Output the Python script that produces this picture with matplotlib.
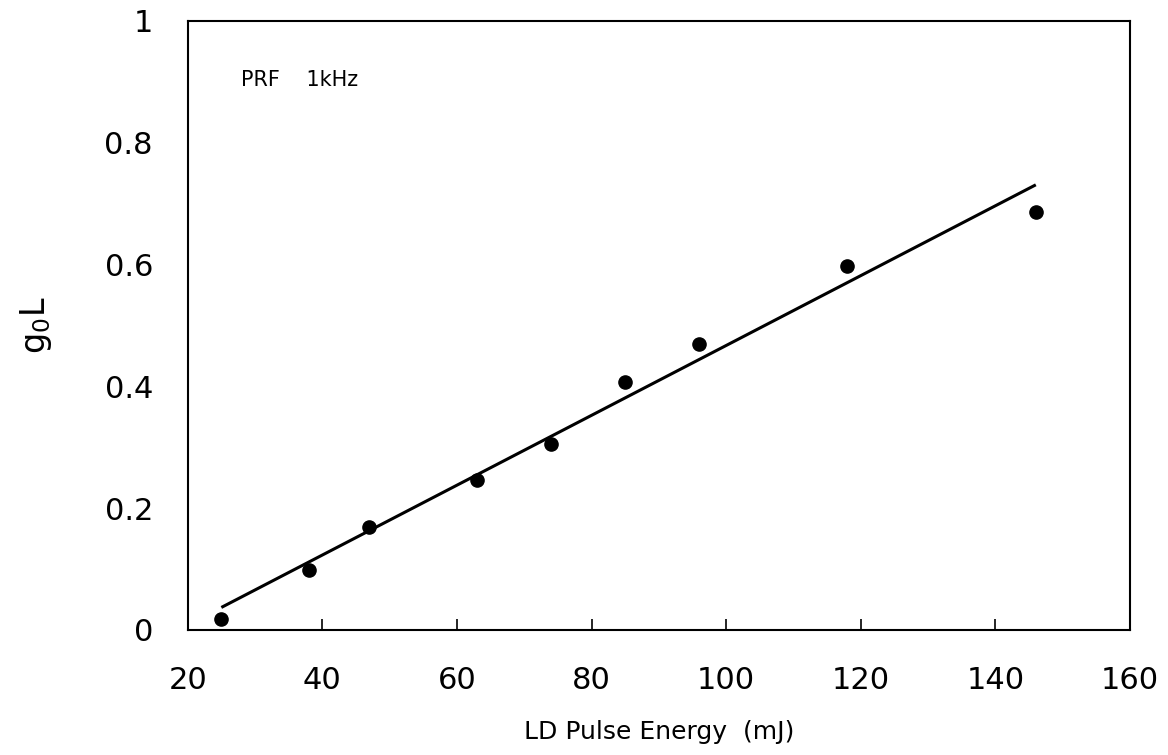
import matplotlib
matplotlib.use("Agg")
import matplotlib.pyplot as plt

# measured points
energy = [25, 38, 47, 63, 74, 85, 96, 118, 146]
gain = [0.018, 0.098, 0.169, 0.246, 0.305, 0.408, 0.469, 0.598, 0.686]

# linear fit line (end points)
fit_x = [25, 146]
fit_y = [0.037, 0.731]

xticks = [20, 40, 60, 80, 100, 120, 140, 160]
yticks = [0, 0.2, 0.4, 0.6, 0.8, 1]
ytick_labels = ["0", "0.2", "0.4", "0.6", "0.8", "1"]

plt.rcParams['font.family'] = ['DejaVu Sans']

fig = plt.figure(figsize=(11.68, 7.55), dpi=100)
ax = fig.add_axes([0.1607, 0.1656, 0.8068, 0.8066])

ax.plot(fit_x, fit_y, color='black', lw=2.2, solid_capstyle='butt')
ax.plot(energy, gain, 'o', color='black', ms=9.5)

ax.set_xlim(20, 160)
ax.set_ylim(0, 1)
ax.set_xticks(xticks)
ax.set_yticks(yticks)
ax.set_yticklabels(ytick_labels)

ax.tick_params(axis='x', direction='in', length=8, width=1.2, pad=26, labelsize=22)
ax.tick_params(axis='y', direction='in', length=0, pad=25, labelsize=22)
for s in ax.spines.values():
    s.set_linewidth(1.5)

ax.text(0.057, 0.903, "PRF    1kHz", transform=ax.transAxes, fontsize=15,
        va='center', ha='left')

ax.set_xlabel("LD Pulse Energy  (mJ)", fontsize=18, labelpad=18)
ax.set_ylabel(r"g$_\mathregular{0}$L", fontsize=24, labelpad=36)

fig.savefig("out.png", dpi=100)
